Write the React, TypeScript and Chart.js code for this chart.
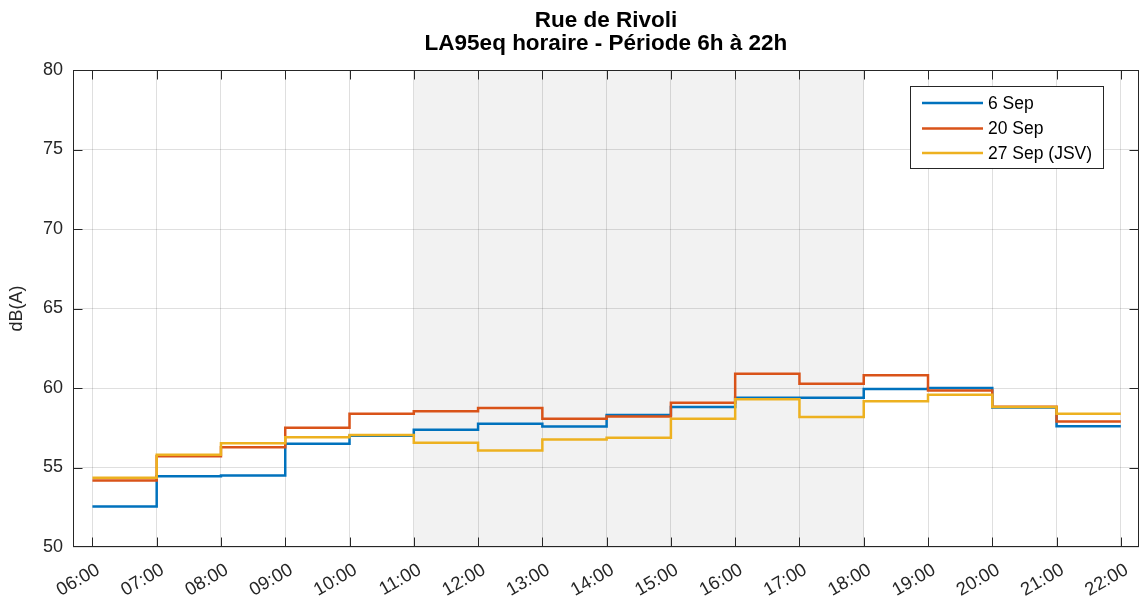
import React, { useEffect, useRef } from 'react';
import { Chart, registerables } from 'chart.js';

Chart.register(...registerables);

const titleLines = ['Rue de Rivoli', 'LA95eq horaire - Période 6h à 22h'];
const yAxisLabel = 'dB(A)';
const hours = [6, 7, 8, 9, 10, 11, 12, 13, 14, 15, 16, 17, 18, 19, 20, 21, 22];
const seriesLabels = ['6 Sep', '20 Sep', '27 Sep (JSV)'];
const sep6 = [52.55, 54.45, 54.5, 56.49, 57.0, 57.38, 57.75, 57.58, 58.3, 58.8, 59.39, 59.39, 59.94, 60.0, 58.78, 57.6];
const sep20 = [54.18, 55.71, 56.28, 57.5, 58.38, 58.53, 58.74, 58.07, 58.21, 59.08, 60.9, 60.27, 60.8, 59.85, 58.82, 57.9];
const sep27 = [54.35, 55.8, 56.53, 56.91, 57.05, 56.55, 56.07, 56.76, 56.87, 58.07, 59.29, 58.17, 59.16, 59.58, 58.8, 58.38];
const seriesColors = ['#0072BD', '#D95319', '#EDB120'];
const shadeStart = 11;
const shadeEnd = 18;
const yMin = 50;
const yMax = 80;
const yStep = 5;
const xMin = 5.698;
const xMax = 22.28;

const fmtHour = (h: number) => (h < 10 ? '0' + h : '' + h) + ':00';

const decorPlugin = {
  id: 'decor',
  beforeDraw(chart: any) {
    const { ctx, chartArea: a, scales } = chart;
    const x = scales.x;
    ctx.save();
    ctx.fillStyle = '#ffffff';
    ctx.fillRect(0, 0, chart.width, chart.height);
    const x0 = x.getPixelForValue(shadeStart);
    const x1 = x.getPixelForValue(shadeEnd);
    ctx.fillStyle = '#f2f2f2';
    ctx.fillRect(x0, a.top, x1 - x0, a.bottom - a.top);
    ctx.restore();
  },
  afterDraw(chart: any) {
    const { ctx, chartArea: a, scales } = chart;
    const x = scales.x;
    const y = scales.y;
    ctx.save();
    const L = Math.round(a.left) + 0.5;
    const R = Math.round(a.right) - 0.5;
    const T = Math.round(y.getPixelForValue(yMax)) + 0.5;
    const B = Math.round(y.getPixelForValue(yMin)) - 0.5;
    // box
    ctx.strokeStyle = '#262626';
    ctx.lineWidth = 1;
    ctx.strokeRect(L, T, R - L, B - T);
    // inward ticks
    const tl = 9;
    ctx.beginPath();
    hours.forEach((h) => {
      const px = Math.round(x.getPixelForValue(h)) + 0.5;
      ctx.moveTo(px, T);
      ctx.lineTo(px, T + tl);
      ctx.moveTo(px, B);
      ctx.lineTo(px, B - tl);
    });
    for (let v = yMin + yStep; v < yMax; v += yStep) {
      const py = Math.round(y.getPixelForValue(v)) + 0.5;
      ctx.moveTo(L, py);
      ctx.lineTo(L + tl, py);
      ctx.moveTo(R, py);
      ctx.lineTo(R - tl, py);
    }
    ctx.stroke();

    // title
    const cx = (a.left + a.right) / 2;
    ctx.fillStyle = '#000000';
    ctx.font = 'bold 22.5px "Liberation Sans", Arial, sans-serif';
    ctx.textAlign = 'center';
    ctx.textBaseline = 'alphabetic';
    ctx.fillText(titleLines[0], cx, 27);
    ctx.fillText(titleLines[1], cx, 50);

    // legend
    const lx = 910, ly = 86, lw = 193, lh = 82;
    ctx.fillStyle = '#ffffff';
    ctx.fillRect(lx, ly, lw, lh);
    ctx.strokeStyle = '#262626';
    ctx.lineWidth = 1;
    ctx.strokeRect(lx + 0.5, ly + 0.5, lw, lh);
    const rows = [103, 128.5, 153];
    ctx.font = '17.5px "Liberation Sans", Arial, sans-serif';
    ctx.textAlign = 'left';
    ctx.textBaseline = 'middle';
    seriesLabels.forEach((lab, i) => {
      ctx.strokeStyle = seriesColors[i];
      ctx.lineWidth = 2.5;
      ctx.beginPath();
      ctx.moveTo(922, rows[i]);
      ctx.lineTo(983, rows[i]);
      ctx.stroke();
      ctx.fillStyle = '#000000';
      ctx.fillText(lab, 988, rows[i] + 1);
    });
    ctx.restore();
  },
};

export default function App() {
  const ref = useRef<HTMLCanvasElement | null>(null);
  useEffect(() => {
    document.body.style.margin = '0';
    const canvas = ref.current;
    if (!canvas) return;
    const seriesVals = [sep6, sep20, sep27];
    const datasets = seriesVals.map((vals, i) => ({
      label: seriesLabels[i],
      data: hours.map((h, k) => ({ x: h, y: vals[Math.min(k, vals.length - 1)] })),
      borderColor: seriesColors[i],
      backgroundColor: seriesColors[i],
      borderWidth: 2.5,
      pointRadius: 0,
      fill: false,
      stepped: 'before' as const,
      borderJoinStyle: 'miter' as const,
      order: 2 - i,
    }));
    const chart = new Chart(canvas, {
      type: 'line',
      data: { datasets },
      options: {
        animation: false,
        responsive: false,
        maintainAspectRatio: false,
        layout: { padding: { top: 70, right: 4, left: 0, bottom: 0 } },
        plugins: {
          legend: { display: false },
          title: { display: false },
          tooltip: { enabled: false },
        },
        scales: {
          x: {
            type: 'linear',
            min: xMin,
            max: xMax,
            afterBuildTicks: (scale: any) => {
              scale.ticks = hours.map((h) => ({ value: h }));
            },
            afterFit: (scale: any) => {
              scale.height = 57;
            },
            grid: { color: 'rgba(38,38,38,0.15)', drawTicks: false },
            border: { display: false },
            ticks: {
              autoSkip: false,
              minRotation: 30,
              maxRotation: 30,
              padding: 12,
              labelOffset: 6,
              color: '#262626',
              font: { size: 18.5, family: '"Liberation Sans", Arial, sans-serif' },
              callback: (v: any) => fmtHour(Number(v)),
            },
          },
          y: {
            type: 'linear',
            min: yMin,
            max: yMax,
            afterFit: (scale: any) => {
              scale.width = 73;
            },
            grid: { color: 'rgba(38,38,38,0.15)', drawTicks: false },
            border: { display: false },
            ticks: {
              stepSize: yStep,
              padding: 10,
              color: '#262626',
              font: { size: 18, family: '"Liberation Sans", Arial, sans-serif' },
            },
            title: {
              display: true,
              text: yAxisLabel,
              color: '#262626',
              font: { size: 18, family: '"Liberation Sans", Arial, sans-serif' },
              padding: { top: 6, bottom: 0 },
            },
          },
        },
      },
      plugins: [decorPlugin],
    });
    return () => chart.destroy();
  }, []);
  return (
    <div style={{ width: 1144, height: 604 }}>
      <canvas ref={ref} width={1144} height={604} />
    </div>
  );
}
